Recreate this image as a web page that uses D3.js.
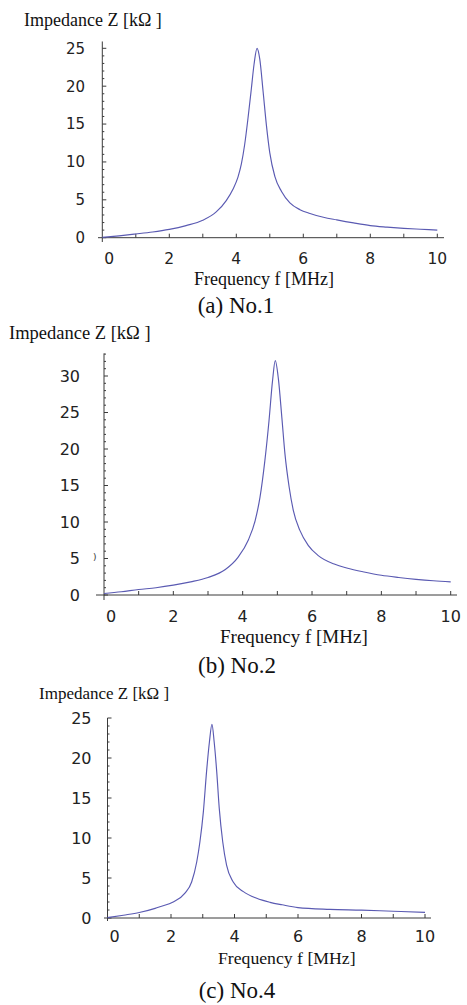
<!DOCTYPE html>
<html>
<head>
<meta charset="utf-8">
<script src="https://cdn.jsdelivr.net/npm/d3@7"></script>
<style>
  html, body { margin: 0; padding: 0; background: #fff; }
  svg { display: block; }
</style>
</head>
<body>
<svg id="chart" width="467" height="1005"></svg>
<script>
// ---- Data ----
const freqA = [0, 0.5, 1, 1.5, 2, 2.5, 3, 3.4, 3.7, 3.9, 4.05, 4.15, 4.25, 4.35, 4.45, 4.53, 4.62, 4.7, 4.8, 4.9, 5.0, 5.15, 5.35, 5.6, 5.9, 6.2, 6.6, 7, 7.5, 8, 8.5, 9, 9.5, 10];
const impA  = [0.05, 0.25, 0.49, 0.75, 1.1, 1.6, 2.3, 3.4, 4.9, 6.4, 8.0, 9.7, 12.3, 15.8, 19.7, 22.9, 25.0, 23.6, 19.3, 14.8, 11.2, 8.1, 6.1, 4.6, 3.7, 3.2, 2.7, 2.35, 1.95, 1.6, 1.4, 1.24, 1.12, 1.0];

const freqB = [0, 0.5, 1, 1.5, 2, 2.5, 3, 3.5, 3.87, 4.16, 4.36, 4.5, 4.64, 4.76, 4.86, 4.94, 5.03, 5.13, 5.22, 5.34, 5.46, 5.65, 5.89, 6.18, 6.66, 7, 7.5, 8, 8.5, 9, 9.5, 10];
const impB  = [0.2, 0.45, 0.75, 1.0, 1.35, 1.8, 2.4, 3.5, 5.2, 7.5, 10.2, 13.4, 18.4, 23.9, 29.3, 32.1, 29.6, 24.3, 19.3, 14.8, 11.6, 8.85, 6.8, 5.4, 4.2, 3.7, 3.15, 2.7, 2.4, 2.15, 1.95, 1.8];

const freqC = [0, 0.5, 1, 1.5, 1.65, 2.07, 2.44, 2.65, 2.81, 2.91, 3.02, 3.12, 3.21, 3.29, 3.36, 3.44, 3.52, 3.63, 3.75, 3.96, 4.28, 4.7, 5.12, 5.5, 6, 7, 8, 9, 10];
const impC  = [0.05, 0.35, 0.68, 1.2, 1.4, 2.0, 3.1, 4.5, 7.0, 9.5, 13.3, 18.3, 22.0, 24.2, 22.0, 18.3, 13.7, 9.5, 6.6, 4.5, 3.3, 2.46, 1.96, 1.65, 1.3, 1.08, 0.98, 0.84, 0.71];

const xTickLabels = [0, 2, 4, 6, 8, 10];
const yTickLabelsA = [0, 5, 10, 15, 20, 25];
const yTickLabelsB = [0, 5, 10, 15, 20, 25, 30];
const yTickLabelsC = [0, 5, 10, 15, 20, 25];
const yTitle = "Impedance Z [k\u03A9 ]";
const xTitle = "Frequency f [MHz]";
const captions = ["(a) No.1", "(b) No.2", "(c) No.4"];

// ---- Layout per panel ----
const panels = [
  { f: freqA, z: impA, yTicks: yTickLabelsA, caption: captions[0],
    x0: 102.3, x1: 437.3, y0: 237.7, yPerUnit: 7.576, yMax: 25.9,
    xAxisL: 98, xAxisR: 444, yAxisBottom: 242,
    yLabelRight: 85, yLabelSize: 15, xLabelBase: 264, tickSize: 15.5,
    yTitleX: 24, yTitleY: 26, yTitleSize: 18,
    xTitleX: 194, xTitleY: 285, xTitleSize: 18,
    capX: 236, capY: 313 },
  { f: freqB, z: impB, yTicks: yTickLabelsB, caption: captions[1],
    x0: 104, x1: 450.7, y0: 595, yPerUnit: 7.3, yMax: 33.1,
    xAxisL: 96, xAxisR: 457, yAxisBottom: 600,
    yLabelRight: 80, yLabelSize: 16, xLabelBase: 622, tickSize: 16,
    yTitleX: 9, yTitleY: 339, yTitleSize: 18.5,
    xTitleX: 220, xTitleY: 643, xTitleSize: 19,
    capX: 237, capY: 673, stray: { x: 93, y: 560 } },
  { f: freqC, z: impC, yTicks: yTickLabelsC, caption: captions[2],
    x0: 107.5, x1: 425, y0: 918, yPerUnit: 8.0, yMax: 25,
    xAxisL: 104, xAxisR: 431, yAxisBottom: 921,
    yLabelRight: 91.5, yLabelSize: 16, xLabelBase: 942, tickSize: 16,
    yTitleX: 39, yTitleY: 699, yTitleSize: 17,
    xTitleX: 218, xTitleY: 964, xTitleSize: 17.7,
    capX: 237, capY: 998 }
];

const svg = d3.select("#chart");
const axisColor = "#3a3a3a";
const curveColor = "#5a5ab2";
const serif = "'Liberation Serif', 'Times New Roman', serif";
const sans = "'DejaVu Sans', Verdana, sans-serif";

panels.forEach(p => {
  const g = svg.append("g");
  const x = d3.scaleLinear().domain([0, 10]).range([p.x0, p.x1]);
  const y = d3.scaleLinear().domain([0, 1]).range([p.y0, p.y0 - p.yPerUnit]);
  const yTop = y(p.yMax);

  // y axis line
  g.append("line")
    .attr("x1", p.x0).attr("x2", p.x0)
    .attr("y1", yTop).attr("y2", p.yAxisBottom)
    .attr("stroke", axisColor).attr("stroke-width", 1);
  // x axis line
  g.append("line")
    .attr("x1", p.xAxisL).attr("x2", p.xAxisR)
    .attr("y1", p.y0).attr("y2", p.y0)
    .attr("stroke", axisColor).attr("stroke-width", 1);

  // y ticks: minor every 1, major every 5 (pointing inward/right)
  const yMinor = d3.range(0, Math.floor(p.yMax) + 1);
  g.selectAll(".ymt").data(yMinor).enter().append("line")
    .attr("x1", p.x0).attr("x2", d => p.x0 + (d % 5 === 0 ? 4 : 2))
    .attr("y1", d => y(d)).attr("y2", d => y(d))
    .attr("stroke", axisColor).attr("stroke-width", 1);

  // x ticks at every integer (pointing up)
  const xMinor = d3.range(1, 11);
  g.selectAll(".xmt").data(xMinor).enter().append("line")
    .attr("x1", d => x(d)).attr("x2", d => x(d))
    .attr("y1", p.y0).attr("y2", p.y0 - 4)
    .attr("stroke", axisColor).attr("stroke-width", 1);

  // y tick labels
  g.selectAll(".yl").data(p.yTicks).enter().append("text")
    .attr("x", p.yLabelRight).attr("y", d => y(d))
    .attr("dy", "0.36em")
    .attr("text-anchor", "end")
    .attr("font-family", sans).attr("font-size", p.yLabelSize)
    .attr("fill", "#222")
    .text(d => d);

  // x tick labels
  g.selectAll(".xl").data(xTickLabels).enter().append("text")
    .attr("x", d => x(d) + (d === 0 ? 7 : 0)).attr("y", p.xLabelBase)
    .attr("text-anchor", "middle")
    .attr("font-family", sans).attr("font-size", p.tickSize)
    .attr("fill", "#222")
    .text(d => d);

  // curve
  const pts = p.f.map((fv, i) => [fv, p.z[i]]);
  const line = d3.line().x(d => x(d[0])).y(d => y(d[1])).curve(d3.curveMonotoneX);
  g.append("path").datum(pts)
    .attr("d", line)
    .attr("fill", "none")
    .attr("stroke", curveColor)
    .attr("stroke-width", 1.15)
    .attr("stroke-linejoin", "round");

  // titles
  g.append("text")
    .attr("x", p.yTitleX).attr("y", p.yTitleY)
    .attr("font-family", serif).attr("font-size", p.yTitleSize)
    .attr("fill", "#111")
    .text(yTitle);
  g.append("text")
    .attr("x", p.xTitleX).attr("y", p.xTitleY)
    .attr("font-family", serif).attr("font-size", p.xTitleSize)
    .attr("fill", "#111")
    .text(xTitle);
  g.append("text")
    .attr("x", p.capX).attr("y", p.capY)
    .attr("text-anchor", "middle")
    .attr("font-family", serif).attr("font-size", 23)
    .attr("fill", "#111")
    .text(p.caption);

  if (p.stray) {
    g.append("text")
      .attr("x", p.stray.x).attr("y", p.stray.y)
      .attr("font-family", sans).attr("font-size", 9)
      .attr("fill", "#333")
      .text(")");
  }
});
</script>
</body>
</html>
